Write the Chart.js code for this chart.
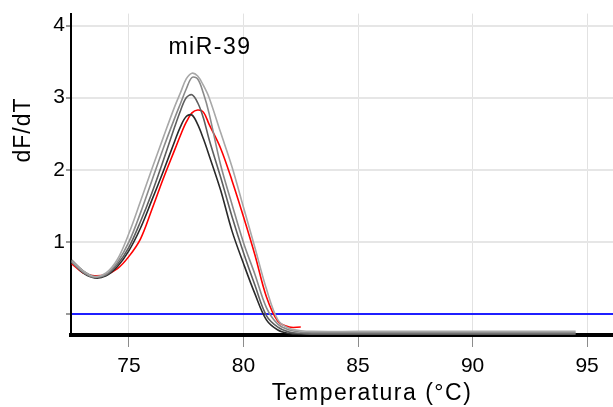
<!DOCTYPE html>
<html>
<head>
<meta charset="utf-8">
<script src="https://cdn.jsdelivr.net/npm/chart.js@4"></script>
<style>
  body { margin: 0; background: #fff; }
  #chart { display: block; }
</style>
</head>
<body>
<canvas id="chart" width="613" height="407"></canvas>
<script>
// temperatures (°C) shared by all melt curves
const temps = [72.5, 73, 73.5, 74, 74.5, 75, 75.5, 76, 76.5, 77, 77.25, 77.5, 77.75, 78, 78.25, 78.5, 79, 79.5, 80, 80.5, 81, 81.5, 82, 82.5, 83, 85, 88, 91, 94.5];

// dF/dT per well
const wellA = [0.74, 0.60, 0.52, 0.57, 0.76, 1.12, 1.56, 2.01, 2.45, 2.88, 3.07, 3.26, 3.34, 3.30, 3.17, 3.00, 2.52, 2.04, 1.48, 0.92, 0.35, -0.08, -0.20, -0.23, -0.24, -0.24, -0.24, -0.24, -0.24];
const wellB = [0.72, 0.58, 0.51, 0.55, 0.72, 1.00, 1.40, 1.85, 2.30, 2.72, 2.92, 3.12, 3.28, 3.26, 3.06, 2.78, 2.07, 1.52, 0.99, 0.55, 0.09, -0.14, -0.22, -0.25, -0.26, -0.26, -0.26, -0.26, -0.26];
const wellC = [0.75, 0.60, 0.52, 0.54, 0.69, 0.93, 1.28, 1.68, 2.13, 2.60, 2.82, 3.00, 3.04, 2.93, 2.72, 2.42, 1.90, 1.35, 0.85, 0.40, -0.02, -0.18, -0.25, -0.27, -0.28, -0.28, -0.28, -0.28, -0.28];
const wellD = [0.73, 0.57, 0.50, 0.53, 0.66, 0.88, 1.19, 1.58, 1.98, 2.40, 2.60, 2.74, 2.76, 2.63, 2.43, 2.20, 1.72, 1.15, 0.70, 0.28, -0.08, -0.22, -0.27, -0.29, -0.29, null, null, null, null];
const wellRot = [0.70, 0.57, 0.53, 0.55, 0.63, 0.80, 1.04, 1.45, 1.88, 2.28, 2.48, 2.66, 2.79, 2.83, 2.80, 2.63, 2.30, 1.85, 1.35, 0.82, 0.24, -0.10, -0.18, -0.18, null, null, null, null, null];

const wellFarben = ["#a8a8a8", "#8a8a8a", "#5e5e5e", "#2a2a2a", "#ff0000"];

const xTicks = [75, 80, 85, 90, 95];
const yTicks = [0, 1, 2, 3, 4];
const yTickLabels = ["", "1", "2", "3", "4"];

const schrift = "'Liberation Sans', Arial, sans-serif";

function punkte(werte) {
    return temps.map((t, i) => ({ x: t, y: werte[i] }));
}

const titelPlugin = {
    id: "titel",
    afterDraw(chart) {
        const c = chart.ctx;
        c.save();
        c.fillStyle = "#000";
        c.textAlign = "center";
        c.textBaseline = "middle";
        c.font = "23px " + schrift;
        c.letterSpacing = "1.5px";
        c.fillText("miR-39", 210, 48);
        c.fillText("Temperatura (°C)", 372, 394);
        c.translate(24, 130);
        c.rotate(-Math.PI / 2);
        c.letterSpacing = "1px";
        c.fillText("dF/dT", 0, 0);
        c.restore();
    },
};

const ctx = document.getElementById("chart").getContext("2d");

const datasets = [wellA, wellB, wellC, wellD, wellRot].map((w, i) => ({
    data: punkte(w),
    borderColor: wellFarben[i],
    borderWidth: 1.6,
    pointRadius: 0,
    fill: false,
    tension: 0.35,
    spanGaps: false,
}));

new Chart(ctx, {
    type: "line",
    data: { datasets: datasets },
    plugins: [titelPlugin],
    options: {
        responsive: false,
        animation: false,
        devicePixelRatio: 1,
        layout: { padding: { top: 12, right: 0, left: 0, bottom: 0 } },
        plugins: { legend: { display: false }, tooltip: { enabled: false } },
        scales: {
            x: {
                type: "linear",
                min: 72.47,
                max: 96.13,
                afterFit: (s) => { s.height = 72; },
                afterBuildTicks: (s) => { s.ticks = xTicks.map((v) => ({ value: v })); },
                ticks: {
                    font: { size: 21, family: schrift },
                    color: "#000",
                    padding: 7,
                    maxRotation: 0,
                },
                grid: {
                    color: "#e2e2e2",
                    lineWidth: 1,
                    tickLength: 12,
                    tickColor: "#8c8c8c",
                },
                border: { color: "#000", width: 4 },
            },
            y: {
                min: -0.29,
                max: 4.166,
                afterFit: (s) => { s.width = 71; },
                afterBuildTicks: (s) => { s.ticks = yTicks.map((v) => ({ value: v })); },
                ticks: {
                    font: { size: 21, family: schrift },
                    color: "#000",
                    padding: 1,
                    callback: (v) => yTickLabels[yTicks.indexOf(v)],
                },
                grid: {
                    color: (c) => (c.tick && c.tick.value === 0 ? "#1f1fff" : "#e6e6e6"),
                    lineWidth: 2,
                    tickLength: 5,
                    tickColor: "#9a9a9a",
                },
                border: { color: "#000", width: 2 },
            },
        },
    },
});
</script>
</body>
</html>
